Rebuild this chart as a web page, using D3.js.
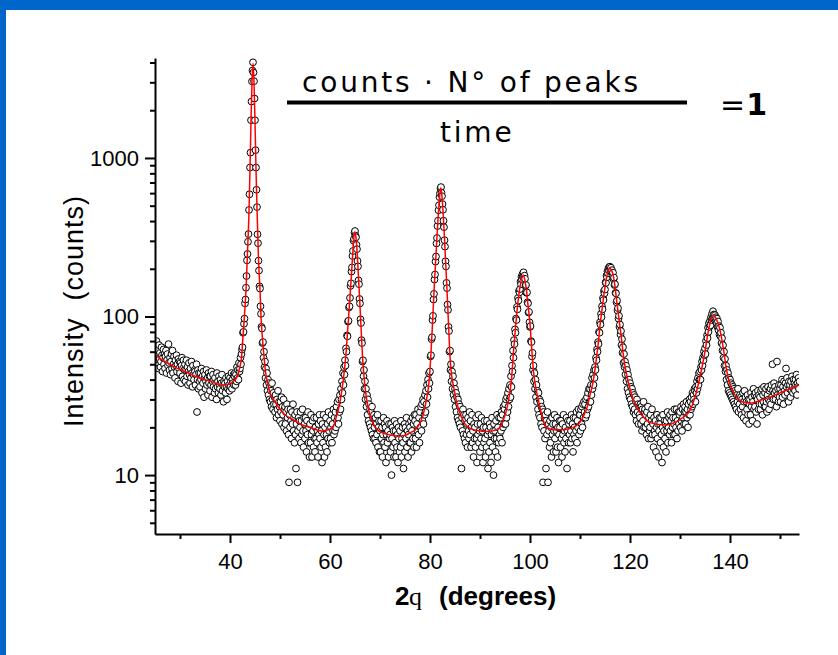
<!DOCTYPE html>
<html>
<head>
<meta charset="utf-8">
<script src="https://cdn.jsdelivr.net/npm/d3@7"></script>
<style>
  body { margin: 0; background: #fff; }
  svg { display: block; }
</style>
</head>
<body>
<svg id="chart" width="838" height="655"></svg>
<script>
// XRD pattern, log intensity vs 2-theta, measured counts (circles) + fit (red)

const angleStart = 25.0;
const angleStep = 0.1;

// one row per degree, 10 readings per row
const counts = [
  63,51,58,70,49,56,61,47,66,54,
  59,48,52,64,57,45,55,62,50,58,
  47,56,61,44,53,58,49,67,51,46,
  55,43,52,58,47,61,44,50,56,48,
  41,53,49,57,45,50,39,54,47,52,
  44,51,38,49,55,42,47,53,40,46,
  50,39,46,53,42,48,37,45,51,43,
  38,47,41,52,44,36,49,43,40,46,
  45,37,43,50,25,40,46,35,44,39,
  36,44,40,47,33,42,38,45,31,41,
  43,35,39,46,37,41,32,44,38,42,
  34,42,37,45,31,39,43,36,40,33,
  41,35,38,30,44,36,39,33,42,37,
  35,40,32,38,43,34,37,29,39,36,
  38,33,41,36,30,39,35,42,37,34,
  41,36,39,44,35,40,38,43,37,42,
  44,37,43,39,48,41,46,40,51,45,
  47,55,50,58,62,64,79,80,90,97,
  121,128,152,180,226,248,296,331,470,590,
  870,1080,1730,2270,3040,3560,4010,3460,3050,2370,
  1730,1120,870,630,490,330,290,225,195,155,
  150,116,104,86,84,68,69,55,60,48,
  52,41,47,37,44,34,40,32,38,30,
  36,29,34,27,38,30,26,33,28,31,
  25,32,28,23,30,26,34,24,29,27,
  22,29,25,31,21,27,24,30,20,26,
  27,21,25,19,28,23,26,18,9,24,
  20,26,22,17,25,21,28,19,23,16,
  24,18,11,21,25,9,19,23,17,22,
  20,25,16,22,18,26,19,15,23,21,
  17,23,19,14,22,18,25,16,20,13,
  21,16,24,18,13,22,19,15,23,17,
  14,20,17,23,16,19,13,21,18,24,
  17,22,15,19,12,21,16,24,18,13,
  20,15,23,18,14,21,17,25,19,16,
  22,17,20,24,16,21,19,26,18,23,
  19,25,20,27,22,29,23,21,30,25,
  32,26,35,30,39,33,44,37,48,43,
  53,49,63,60,76,75,93,94,114,116,
  131,156,162,192,204,241,259,301,309,338,
  346,323,316,283,266,224,207,169,160,129,
  121,96,91,71,68,52,53,42,46,35,
  39,30,35,27,32,24,30,22,28,21,
  26,20,25,19,27,18,23,17,24,20,
  17,23,16,21,18,24,15,20,22,14,
  19,14,22,17,20,13,18,23,16,21,
  15,20,12,18,22,16,19,13,21,17,
  18,14,21,10,17,20,15,19,13,22,
  16,19,13,21,15,18,12,20,17,14,
  19,15,22,13,17,20,16,11,18,21,
  14,20,17,23,15,19,13,18,21,16,
  20,16,22,14,19,23,17,21,15,24,
  22,17,24,15,21,19,26,18,23,16,
  25,20,27,19,28,22,30,21,29,24,
  32,25,34,28,37,31,40,35,44,38,
  45,56,57,72,74,95,101,128,139,171,
  184,222,239,289,313,372,402,468,503,566,
  598,644,655,603,574,512,471,402,366,303,
  276,223,207,163,151,119,110,86,81,60,
  61,46,50,39,45,35,42,32,38,30,
  35,27,33,25,31,23,30,22,28,21,
  27,20,25,11,23,19,26,18,24,17,
  22,16,24,18,21,15,23,19,17,25,
  18,22,15,20,24,16,19,13,21,17,
  20,15,23,17,12,21,18,24,16,19,
  14,21,17,23,15,19,12,20,16,22,
  17,13,20,15,22,18,11,19,14,21,
  16,20,12,18,23,15,19,10,21,17,
  19,14,22,17,24,13,20,16,23,18,
  17,23,19,25,16,24,20,27,21,26,
  28,21,30,23,31,25,33,27,35,30,
  37,31,42,36,49,45,61,55,71,67,
  83,79,97,95,115,111,131,126,145,142,
  149,166,160,178,171,185,177,190,176,181,
  173,156,158,141,142,123,121,106,107,92,
  86,87,70,69,56,59,46,49,39,44,
  35,40,31,37,29,34,26,33,24,30,
  23,29,21,27,20,26,9,25,19,23,
  17,24,11,22,18,25,9,21,19,15,
  22,16,20,13,23,18,21,14,19,24,
  17,21,14,19,23,15,20,12,18,22,
  20,15,22,17,13,21,18,24,16,19,
  14,20,17,23,11,19,22,16,21,18,
  22,16,19,24,17,21,14,23,18,20,
  17,23,19,25,16,22,20,26,18,24,
  24,19,26,21,27,20,28,23,29,25,
  28,23,30,24,31,26,33,27,35,29,
  35,29,37,32,41,35,43,37,46,41,
  48,46,55,53,62,60,69,67,80,79,
  92,89,104,99,116,111,131,127,145,140,
  148,164,163,181,177,193,187,202,195,206,
  206,197,203,190,196,181,189,172,176,158,
  160,141,140,123,126,109,113,97,101,86,
  89,77,81,66,72,59,64,51,58,48,
  52,43,49,39,46,35,43,33,40,31,
  38,30,36,28,35,27,33,25,32,26,
  31,24,29,22,30,25,28,21,27,24,
  23,28,21,27,19,26,22,29,20,25,
  26,20,24,18,25,21,27,17,23,19,
  20,24,17,22,26,18,21,15,23,19,
  18,22,14,20,24,17,21,13,19,23,
  21,16,23,18,12,20,24,15,19,22,
  17,21,14,22,19,25,16,20,23,18,
  24,19,22,16,25,20,23,18,21,26,
  18,23,20,26,17,22,19,25,21,24,
  25,20,27,22,19,26,23,28,21,25,
  27,21,25,29,23,26,20,28,24,30,
  24,29,26,31,27,33,28,32,30,35,
  34,29,36,33,39,35,41,37,44,40,
  45,40,48,46,52,49,55,53,60,57,
  63,58,70,66,76,73,85,80,91,86,
  94,88,99,95,104,97,108,99,103,96,
  102,93,99,91,97,86,93,82,87,77,
  85,75,79,68,73,61,66,55,60,49,
  54,45,49,40,46,37,44,34,41,33,
  40,32,38,31,37,30,36,29,35,28,
  34,27,33,26,32,29,35,25,31,28,
  32,26,31,24,30,27,33,23,29,34,
  25,31,22,29,26,32,24,30,21,28,
  30,24,33,27,31,22,29,35,26,32,
  27,33,25,31,21,30,34,26,32,28,
  31,26,34,28,35,24,32,29,36,27,
  33,27,35,29,25,32,36,30,26,34,
  29,35,28,37,31,50,34,30,38,33,
  36,30,34,27,52,32,35,29,37,31,
  35,29,37,33,40,31,36,28,39,34,
  32,38,47,36,41,33,37,29,39,35,
  37,31,39,34,42,36,33,40,35,38,
  34,40,37,43,32,38,36,41,35,39
];

// fitted profile
const fitAngle = [
  25, 27, 29, 31, 33, 35, 37, 38.4, 39.5, 40.5, 41.3, 41.9, 42.3, 42.6, 42.9, 43.2, 43.5, 43.8,
  44.0, 44.2, 44.4, 44.6, 44.8, 45.0, 45.2, 45.4, 45.7, 46.0, 46.2, 46.5, 46.8, 47.1, 47.5, 48,
  49, 50, 51, 52.5, 54, 56, 58.4, 60, 60.6, 61.3, 61.8, 62.3, 62.7, 63.0, 63.3, 63.6, 63.9, 64.1,
  64.3, 64.5, 64.7, 64.95, 65.1, 65.3, 65.5, 65.7, 65.9, 66.1, 66.3, 66.5, 66.8, 67.1, 67.5, 68,
  68.7, 69.5, 70.5, 72, 73.5, 75, 76, 77, 77.7, 78.2, 78.7, 79.2, 79.6, 79.9, 80.1, 80.3, 80.5,
  80.7, 80.9, 81.1, 81.3, 81.5, 81.7, 81.9, 82.05, 82.15, 82.3, 82.5, 82.7, 82.9, 83.1, 83.3,
  83.5, 83.7, 83.9, 84.1, 84.4, 84.8, 85.3, 86, 87, 88, 89.5, 91, 92.5, 93.5, 94, 94.6, 95.2,
  95.7, 96, 96.3, 96.5, 96.7, 97, 97.3, 97.6, 98, 98.3, 98.65, 98.95, 99.3, 99.6, 100, 100.3,
  100.7, 101.2, 101.7, 102.5, 103.3, 105, 107, 108, 109, 110, 110.7, 111.3, 112, 112.7, 113.3,
  113.7, 114, 114.4, 114.7, 115, 115.3, 115.6, 115.95, 116.3, 116.7, 117, 117.3, 117.7, 118,
  118.4, 118.7, 119.2, 119.7, 120.5, 121.3, 122.3, 123.3, 125, 127.3, 129, 130.5, 132, 133, 134,
  135, 135.7, 136.2, 136.7, 137.3, 138, 138.7, 139.3, 140.2, 141.3, 142.5, 144, 146, 148, 150,
  152, 153.8
];
const fitCount = [
  57, 52, 48, 45, 42, 40, 38, 36.8, 37.2, 38.6, 41, 47, 55, 75, 102, 147, 255, 460,
  850, 1700, 3000, 3950, 3000, 1700, 850, 480, 230, 147, 100, 72, 56, 45, 38.5, 33,
  29, 26, 24, 22.5, 21, 20, 19, 19.5, 20, 23.5, 27, 33, 41, 50, 64, 88, 120, 150,
  185, 235, 295, 343, 330, 290, 230, 175, 135, 100, 75, 56, 42, 34, 28, 24,
  21, 19.3, 18.5, 17.9, 17.6, 17.8, 18.5, 19.2, 20.5, 22, 24.5, 29, 34, 42, 52, 68, 90,
  122, 165, 215, 280, 365, 460, 560, 630, 647, 610, 520, 410, 310, 230, 170,
  125, 90, 65, 50, 41, 35, 29, 24.5, 21, 19.7, 19.1, 18.8, 19, 19.5, 20, 22, 25,
  29.5, 34, 40, 49, 60, 78, 100, 124, 154, 172, 183, 170, 146, 118, 90, 66,
  45, 35, 29.5, 23, 20, 19.3, 19.4, 19.7, 20.2, 21.5, 23.5, 26, 32, 40, 55,
  70, 88, 110, 132, 152, 175, 192, 202, 196, 178, 155, 128, 102, 86,
  68, 56, 45, 38, 31, 27, 24, 22.2, 21, 20.7, 21.5, 23, 25.6, 31, 41.7,
  60, 82, 96, 102, 96, 82, 62, 46, 36, 31, 29, 28.4, 29.5, 31, 33,
  35, 37
];

const xMajor = [40, 60, 80, 100, 120, 140];
const xMinor = [30, 50, 70, 90, 110, 130, 150];
const yMajor = [10, 100, 1000];
const yMinor = [5, 6, 7, 8, 9, 20, 30, 40, 50, 60, 70, 80, 90,
                200, 300, 400, 500, 600, 700, 800, 900, 2000, 3000, 4000];

const svg = d3.select('#chart');

// blue frame strips
svg.append('rect').attr('x', 0).attr('y', 0).attr('width', 838).attr('height', 10).attr('fill', '#0066cc');
svg.append('rect').attr('x', 0).attr('y', 0).attr('width', 6).attr('height', 655).attr('fill', '#0066cc');

const x = d3.scaleLinear().domain([25, 153.8]).range([155, 799]);
const y = d3.scaleLog().domain([4.25, 4270]).range([534, 58]);

svg.append('clipPath').attr('id', 'plot-clip')
  .append('rect')
  .attr('x', 155).attr('y', 50)
  .attr('width', 644).attr('height', 484);

const plot = svg.append('g').attr('clip-path', 'url(#plot-clip)');

const points = counts.map((c, i) => [+(angleStart + i * angleStep).toFixed(1), c]);

plot.selectAll('circle.obs')
  .data(points)
  .enter()
  .append('circle')
  .attr('class', 'obs')
  .attr('cx', d => x(d[0]))
  .attr('cy', d => y(d[1]))
  .attr('r', 3.4)
  .attr('fill', '#fff')
  .attr('stroke', '#000')
  .attr('stroke-width', 1);

const fitLine = d3.line()
  .x(d => x(d[0]))
  .y(d => y(d[1]))
  .curve(d3.curveMonotoneX);

plot.append('path')
  .datum(d3.zip(fitAngle, fitCount))
  .attr('fill', 'none')
  .attr('stroke', '#ff0000')
  .attr('stroke-width', 1.5)
  .attr('d', fitLine);

// axes
const font = '"Liberation Sans", Arial, sans-serif';

function styleAxis(g) {
  g.select('.domain').attr('stroke', '#000').attr('stroke-width', 2);
  g.selectAll('.tick line').attr('stroke', '#000').attr('stroke-width', 2);
  g.selectAll('.tick text')
    .attr('fill', '#000')
    .attr('font-family', font)
    .attr('font-size', '22px');
}

svg.append('g')
  .attr('transform', 'translate(0,534)')
  .call(d3.axisBottom(x).tickValues(xMinor).tickSize(5).tickSizeOuter(0).tickFormat(''))
  .call(g => g.select('.domain').remove())
  .call(styleAxis);

svg.append('g')
  .attr('transform', 'translate(0,534)')
  .call(d3.axisBottom(x).tickValues(xMajor).tickSize(9).tickSizeOuter(0)
    .tickPadding(10).tickFormat(d3.format('d')))
  .call(styleAxis);

svg.append('g')
  .attr('transform', 'translate(155,0)')
  .call(d3.axisLeft(y).tickValues(yMinor).tickSize(5).tickSizeOuter(0).tickFormat(''))
  .call(g => g.select('.domain').remove())
  .call(styleAxis);

svg.append('g')
  .attr('transform', 'translate(155,0)')
  .call(d3.axisLeft(y).tickValues(yMajor).tickSize(10).tickSizeOuter(0)
    .tickPadding(6).tickFormat(d3.format('d')))
  .call(styleAxis);

// axis titles
svg.append('text')
  .attr('transform', 'translate(83,311) rotate(-90)')
  .attr('text-anchor', 'middle')
  .attr('font-family', font)
  .attr('font-size', '27px')
  .attr('letter-spacing', '1px')
  .style('white-space', 'pre')
  .text('Intensity  (counts)');

const xt = svg.append('g').attr('font-size', '26px');
xt.append('text').attr('x', 395).attr('y', 605)
  .attr('font-family', font).attr('font-weight', 'bold').text('2');
xt.append('text').attr('x', 409).attr('y', 605)
  .attr('font-family', '"Liberation Serif", "Times New Roman", serif').text('q');
xt.append('text').attr('x', 439).attr('y', 605)
  .attr('font-family', font).attr('font-weight', 'bold').text('(degrees)');

// formula in the top right
const ff = '"DejaVu Sans", Verdana, sans-serif';
svg.append('text')
  .attr('x', 302).attr('y', 92)
  .attr('font-family', ff).attr('font-size', '28px')
  .attr('letter-spacing', '2.8px')
  .text('counts · N° of peaks');
svg.append('line')
  .attr('x1', 287).attr('x2', 687)
  .attr('y1', 102.5).attr('y2', 102.5)
  .attr('stroke', '#000').attr('stroke-width', 4);
svg.append('text')
  .attr('x', 440).attr('y', 142)
  .attr('font-family', ff).attr('font-size', '28px')
  .attr('letter-spacing', '2.8px')
  .text('time');
const eq = svg.append('text')
  .attr('x', 720).attr('y', 115)
  .attr('font-family', ff).attr('font-size', '30px');
eq.append('tspan').text('=');
eq.append('tspan').attr('font-weight', 'bold').attr('dx', 1).text('1');
</script>
</body>
</html>
